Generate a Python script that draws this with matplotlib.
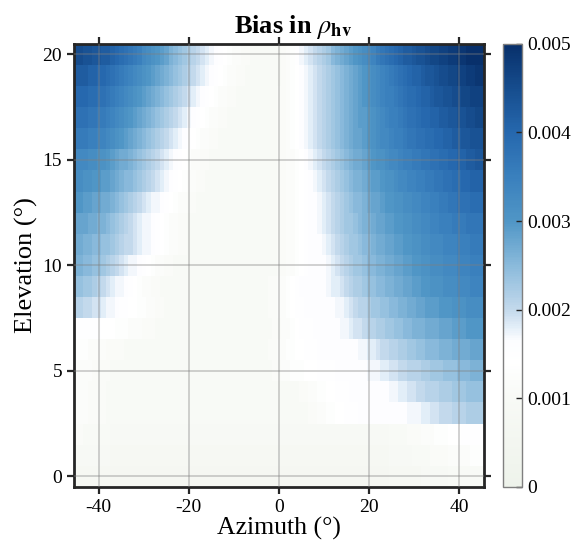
import numpy as np
import matplotlib
matplotlib.use("Agg")
import matplotlib.pyplot as plt
from matplotlib.colors import LinearSegmentedColormap

plt.rcParams['font.family'] = ['Liberation Serif', 'DejaVu Serif']
plt.rcParams['mathtext.fontset'] = 'stix'
plt.rcParams['axes.unicode_minus'] = False

# Azimuth / elevation grid (degrees)
azimuth = np.arange(-45, 46)
elevation = np.arange(0, 21)

# Bias, units of 1e-4, one string per elevation (0 -> 20),
# azimuth -45 -> 45.  "10x23" means 23 cells of 10.
bias_rows = [
    "8x8 7x62 8x7 9x6 10x8",
    "9x8 8x62 9x5 10x4 11x4 12x5 13x3",
    "11x2 10x6 9x62 10x4 11x3 12x3 13x3 14x3 15x5",
    "12x3 11x4 10x45 11 11 12 12 13 13 14 14 15 15 15 16x9 "
    "16 16 17 17 17 18 18 19 19 20 20 20 21 21 21 22 22 22 22",
    "12x3 11x4 10x43 11 11 12 12 13 13 14 14 15 15 15 16x9 "
    "17 17 18 18 19 19 20 20 21 21 21 22 22 22 23 23 23 24 24 24 24",
    "12x4 11x4 10x36 11 11 12 12 13 13 13 14 14 14 15 15 15 15 16 16 16 16 16 "
    "16 16 17 17 17 18 18 19 19 20 20 21 21 21 22 22 23 23 23 24 24 24 25 25 25 26 26 26",
    "13x3 12x4 11x4 10x32 11 11 12 12 13 13 14 14 15 15 15 16x9 "
    "17 17 18 18 19 20 20 21 21 22 22 23 23 24 24 25 25 25 26 26 26 27 27 27 27 28 28 28",
    "15x6 14x3 13x3 12x3 11x3 10x26 11 11 12 12 13 14 15 15 15 16x6 "
    "17 17 18 19 19 20 21 21 22 22 23 23 24 24 25 25 26 26 26 27 27 27 28 28 28 29 29 29 30 30 30 30",
    "21 21 20 20 19 19 18 17 17 "
    "16 15 15 14 14 13 13 12 12 11 11 10x23 11 11 12 12 13 14 15 15 16x7 "
    "17 17 18 19 20 21 21 22 23 23 24 24 25 25 26 26 27 27 28 28 29 29 29 30 30 30 31 31 31 32 32 32 32",
    "24 24 23 23 22 21 20 19 18 17 17 "
    "16 15 14 13 12 12 11 11 10x24 11 11 12 12 13 14 15 16x6 "
    "17 18 18 19 20 21 22 22 23 24 24 25 25 26 26 27 27 28 28 29 29 30 30 31 31 31 32 32 32 33 33 33 34 34 34",
    "26 26 25 25 24 24 23 22 21 20 19 18 17 17 "
    "16 15 14 13 12 12 11 11 10x23 11 11 12 12 13 14 15 16x4 "
    "17 18 19 20 21 22 23 23 24 25 25 26 26 27 27 28 28 29 29 30 30 31 31 32 32 32 33 33 33 34 34 34 35 35 35",
    "27 27 26 26 25 25 24 24 23 22 21 20 20 19 18 17 17 "
    "16 15 14 13 12 12 11 11 10x20 11 11 12 12 13 14 15 16x3 "
    "17 18 19 20 21 22 23 23 24 25 25 26 27 27 28 28 29 29 30 30 31 31 32 32 33 33 33 34 34 34 35 35 35 36 36 36",
    "28 28 28 27 27 26 26 25 24 23 22 21 20 19 18 17 17 "
    "16 15 14 13 12 12 11 11 10x20 11 11 12 12 13 14 15 16 16 "
    "17 18 19 20 21 22 23 23 24 25 26 26 27 28 28 29 29 30 30 31 31 32 32 33 33 34 34 35 35 35 36 36 36 37 37 37 37",
    "30 30 29 29 28 28 27 27 26 25 24 23 22 21 20 19 18 17 17 "
    "16 15 14 13 12 12 11 11 10x18 11 11 12 12 13 14 15 16 16 "
    "17 18 19 20 21 22 23 24 25 25 26 27 28 28 29 30 30 31 31 32 32 33 33 34 34 35 35 36 36 37 37 38 38 38 39 39 39",
    "32 32 31 31 30 30 29 29 28 27 26 25 25 24 23 22 21 20 19 18 17 "
    "16 15 14 13 12 12 11 11 10x16 11 11 12 12 13 14 15 16 "
    "17 18 19 20 21 22 23 24 25 26 26 27 28 29 29 30 31 31 32 33 33 34 34 35 35 36 36 37 37 38 38 39 39 40 40 41 41 41",
    "33 33 33 32 32 31 31 30 29 28 27 27 26 25 24 23 22 21 20 19 18 17 "
    "16 15 14 13 12 12 11 11 10x15 11 11 12 12 13 14 16 "
    "17 18 19 20 21 22 23 24 25 26 27 27 28 29 30 31 31 32 33 33 34 35 35 36 36 37 37 38 38 39 39 40 40 41 41 42 42 43 43",
    "36 36 36 35 35 34 34 33 32 31 30 29 28 27 26 25 24 23 22 21 20 19 18 17 "
    "16 15 14 13 12 12 11 11 10x13 11 11 12 13 14 16 "
    "17 18 19 20 21 22 23 24 25 26 27 28 28 29 30 31 32 33 33 34 35 35 36 37 37 38 38 39 39 40 40 41 41 42 42 43 43 44 44 44",
    "38 38 38 37 37 36 36 35 34 33 32 31 30 29 28 27 26 25 24 23 22 21 20 19 18 17 "
    "16 15 14 13 12 12 11 11 10x11 11 11 12 13 14 16 "
    "17 18 19 20 21 22 23 24 25 26 27 28 29 29 30 31 32 33 34 35 35 36 37 38 38 39 40 40 41 41 42 42 43 43 44 44 45 45 46 46",
    "40 40 40 39 39 38 38 37 36 35 34 33 32 31 30 29 28 27 26 25 24 23 22 21 20 19 18 "
    "17 16 15 14 13 12 12 11 11 10x9 11 11 12 13 14 16 "
    "17 18 19 20 21 22 23 24 25 26 27 28 29 30 31 32 33 34 35 35 36 37 38 39 39 40 41 41 42 43 43 44 44 45 45 46 46 47 47 47",
    "42 42 42 41 41 40 40 39 38 37 36 35 34 33 32 31 30 29 28 27 26 25 24 23 22 21 20 19 18 "
    "17 16 15 14 13 12 12 11 11 10x8 11 12 13 14 16 "
    "17 18 19 20 21 22 23 24 25 26 27 28 29 30 31 32 33 34 35 36 37 38 39 40 41 41 42 43 43 44 45 45 46 46 47 47 48 48 49 49",
    "45 45 44 44 43 43 42 42 41 40 39 38 37 36 35 33 32 31 30 29 28 26 25 24 23 22 21 20 19 18 "
    "17 16 15 14 13 12 12 11 11 10x7 11 12 13 15 "
    "17 18 19 20 21 22 23 25 26 27 28 29 30 31 32 33 34 36 37 38 39 40 41 42 42 43 44 44 45 46 46 47 47 48 48 49 49 50 50 50 50",
]


def parse_row(text):
    vals = []
    for tok in text.split():
        if "x" in tok:
            v, n = tok.split("x")
            vals += [float(v)] * int(n)
        else:
            vals.append(float(tok))
    return vals


bias = np.array([parse_row(r) for r in bias_rows]) * 1e-4

cbar_ticks = [0, 0.001, 0.002, 0.003, 0.004, 0.005]
cbar_labels = ["0", "0.001", "0.002", "0.003", "0.004", "0.005"]
x_ticks = [-40, -20, 0, 20, 40]
y_ticks = [0, 5, 10, 15, 20]

# light green-white up to ~0.0016, then blues
cmap = LinearSegmentedColormap.from_list("bias", [
    (0.00, "#eef3eb"),
    (0.10, "#f3f6f0"),
    (0.20, "#f8faf6"),
    (0.28, "#ffffff"),
    (0.33, "#fcfdff"),
    (0.36, "#e3eef8"),
    (0.40, "#c3d9ec"),
    (0.50, "#8abadb"),
    (0.60, "#5096c6"),
    (0.70, "#3a80bd"),
    (0.80, "#2668ae"),
    (0.90, "#164d8e"),
    (1.00, "#08306b"),
])

fig = plt.figure(figsize=(5.76, 5.52), dpi=100)
ax = fig.add_axes([0.1285, 0.118, 0.7115, 0.8025])
cax = fig.add_axes([0.873, 0.118, 0.033, 0.8025])

im = ax.pcolormesh(azimuth, elevation, bias, cmap=cmap, vmin=0, vmax=0.005,
                   shading='nearest', rasterized=True)
ax.set_xlim(-45.5, 45.5)
ax.set_ylim(-0.5, 20.5)
ax.set_xticks(x_ticks)
ax.set_yticks(y_ticks)
ax.grid(True, color='#7f7f7f', alpha=0.38, linewidth=1.3)
ax.set_axisbelow(False)
ax.tick_params(direction='out', length=5, width=1.6, labelsize=14,
               top=True, right=True, color='#262626')
for s in ax.spines.values():
    s.set_linewidth(2)
    s.set_color('#262626')

ax.set_xlabel('Azimuth (°)', fontsize=18.5, labelpad=1)
ax.set_ylabel('Elevation (°)', fontsize=19, labelpad=3)
ax.set_title(r'Bias in $\rho_{\mathbf{hv}}$', fontsize=19, fontweight='bold',
             pad=8, x=0.535)

cb = fig.colorbar(im, cax=cax, ticks=cbar_ticks)
cb.ax.set_yticklabels(cbar_labels)
cb.outline.set_edgecolor('#7f7f7f')
cb.outline.set_linewidth(1)
cb.ax.tick_params(direction='in', length=4, width=1, labelsize=14, color='#262626', pad=4)

plt.savefig("out.png", dpi=100)
